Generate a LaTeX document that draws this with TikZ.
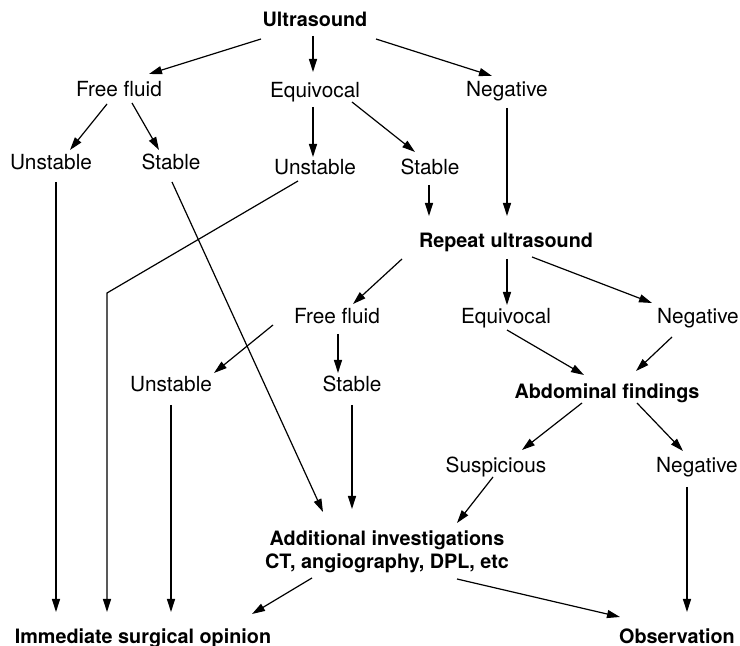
\documentclass[tikz,border=0pt]{standalone}
\usepackage{fontspec}
\setmainfont{TeX Gyre Heros}
\usetikzlibrary{arrows.meta}
\begin{document}
\begin{tikzpicture}[x=0.5pt,y=-0.5pt,
  lbl/.style={anchor=base,inner sep=0pt,font=\fontsize{10.4}{12}\selectfont},
  hd/.style={anchor=base,inner sep=0pt,align=center,font=\fontsize{9.9}{11.5}\selectfont\bfseries},
  arr/.style={-{Triangle[length=6.5pt,width=4pt]},line width=0.6pt}]
\useasboundingbox (0,0) rectangle (740,646);
\fill[white] (0,0) rectangle (740,646);
% nodes
\node[hd]  (us)  at (315,27)  {Ultrasound};
\node[lbl] (ff1) at (119,97)  {Free fluid};
\node[lbl] (eq1) at (315,98)  {Equivocal};
\node[lbl] (ng1) at (507,97)  {Negative};
\node[lbl] (ul)  at (51,170)  {Unstable};
\node[lbl] (sl)  at (171,170) {Stable};
\node[lbl] (um)  at (315,175) {Unstable};
\node[lbl] (sm)  at (430,175) {Stable};
\node[hd]  (rep) at (506,248) {Repeat ultrasound};
\node[lbl] (ff2) at (337,324) {Free fluid};
\node[lbl] (eq2) at (506,324) {Equivocal};
\node[lbl] (ng2) at (698,324) {Negative};
\node[lbl] (u3)  at (171,392) {Unstable};
\node[lbl] (s3)  at (352,392) {Stable};
\node[hd]  (abd) at (607,399) {Abdominal findings};
\node[lbl] (sus) at (496,473) {Suspicious};
\node[lbl] (ng3) at (697,473) {Negative};
\node[hd]  (add) at (387,569) {Additional investigations\\CT, angiography, DPL, etc};
\node[hd]  (im)  at (143,644) {Immediate surgical opinion};
\node[hd]  (ob)  at (677,644) {Observation};
% connectors
\draw[arr] ([shift={(-54,12)}]us.base) -- ([shift={(30,-23)}]ff1.base);
\draw[arr] ([shift={(-2,9)}]us.base) -- ([shift={(-2,-26)}]eq1.base);
\draw[arr] ([shift={(61,12)}]us.base) -- ([shift={(-15,-21)}]ng1.base);
\draw[arr] ([shift={(-12,7)}]ff1.base) -- ([shift={(19,-20)}]ul.base);
\draw[arr] ([shift={(13,6)}]ff1.base) -- ([shift={(-12,-20)}]sl.base);
\draw[arr] ([shift={(-2,9)}]eq1.base) -- ([shift={(-2,-18)}]um.base);
\draw[arr] ([shift={(37,4)}]eq1.base) -- ([shift={(-15,-23)}]sm.base);
\draw[arr] ([shift={(0,11)}]ng1.base) -- ([shift={(1,-32)}]rep.base);
\draw[arr] ([shift={(-1,10)}]sm.base) -- ([shift={(-77,-32)}]rep.base);
\draw[arr] ([shift={(5,12)}]ul.base) -- ([shift={(-87,-32)}]im.base);
\draw[arr] ([shift={(-17,6)}]um.base) -- ([shift={(-36,-351)}]im.base) -- ([shift={(-36,-32)}]im.base);
\draw[arr] ([shift={(1,12)}]sl.base) -- ([shift={(-64,-57)}]add.base);
\draw[arr] ([shift={(-104,11)}]rep.base) -- ([shift={(16,-20)}]ff2.base);
\draw[arr] ([shift={(1,11)}]rep.base) -- ([shift={(1,-19)}]eq2.base);
\draw[arr] ([shift={(26,9)}]rep.base) -- ([shift={(-46,-21)}]ng2.base);
\draw[arr] ([shift={(-64,1)}]ff2.base) -- ([shift={(43,-19)}]u3.base);
\draw[arr] ([shift={(1,10)}]ff2.base) -- ([shift={(-14,-19)}]s3.base);
\draw[arr] ([shift={(1,6)}]eq2.base) -- ([shift={(-23,-24)}]abd.base);
\draw[arr] ([shift={(-26,13)}]ng2.base) -- ([shift={(29,-28)}]abd.base);
\draw[arr] ([shift={(0,13)}]u3.base) -- ([shift={(28,-32)}]im.base);
\draw[arr] ([shift={(0,13)}]s3.base) -- ([shift={(-35,-60)}]add.base);
\draw[arr] ([shift={(-25,4)}]abd.base) -- ([shift={(26,-23)}]sus.base);
\draw[arr] ([shift={(30,4)}]abd.base) -- ([shift={(-14,-22)}]ng3.base);
\draw[arr] ([shift={(-3,4)}]sus.base) -- ([shift={(70,-46)}]add.base);
\draw[arr] ([shift={(-10,14)}]ng3.base) -- ([shift={(10,-32)}]ob.base);
\draw[arr] ([shift={(-75,9)}]add.base) -- ([shift={(109,-30)}]im.base);
\draw[arr] ([shift={(70,10)}]add.base) -- ([shift={(-57,-27)}]ob.base);
\end{tikzpicture}
\end{document}
